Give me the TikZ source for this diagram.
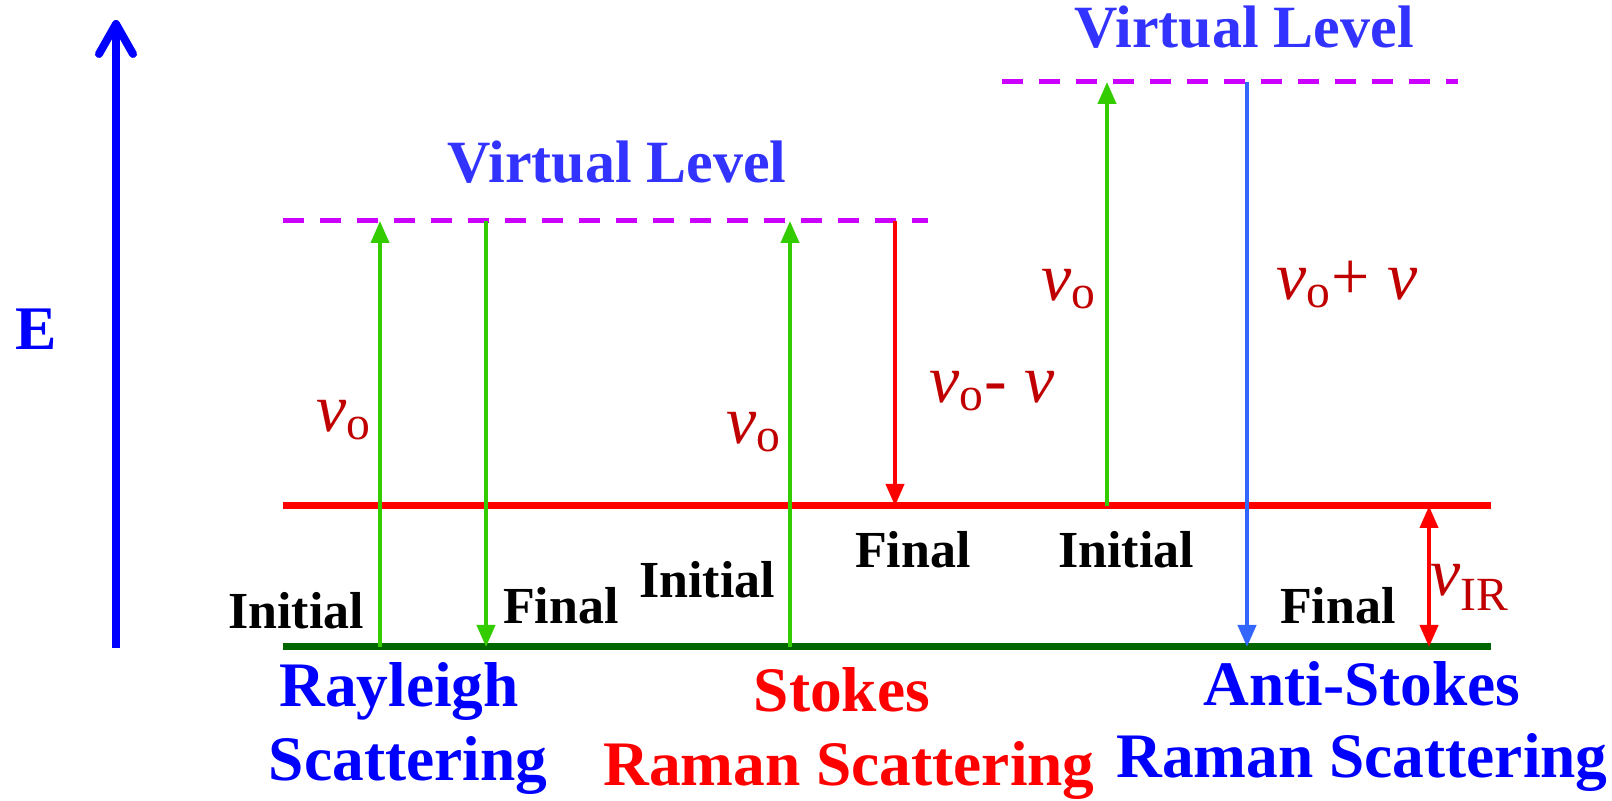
\documentclass[tikz,border=0pt]{standalone}
\usepackage{fontspec}
\setmainfont{Liberation Serif}
\usetikzlibrary{arrows.meta}

\definecolor{axisblue}{RGB}{0,0,255}
\definecolor{virtblue}{RGB}{51,51,255}
\definecolor{virtviolet}{RGB}{204,0,255}
\definecolor{photgreen}{RGB}{51,204,0}
\definecolor{groundgreen}{RGB}{0,102,0}
\definecolor{asblue}{RGB}{51,102,255}
\definecolor{nured}{RGB}{192,0,0}
\newcommand{\nusym}{\textit{ν}}
\newcommand{\nuo}{\nusym\textsubscript{o}}

\begin{document}
\begin{tikzpicture}[x=0.5pt, y=0.5pt,
  statelbl/.style={anchor=base, font=\bfseries\fontsize{26}{30}\selectfont},
  titlelbl/.style={anchor=base, font=\bfseries\fontsize{31.7}{38}\selectfont},
  virtlbl/.style={anchor=base, text=virtblue, font=\bfseries\fontsize{30}{36}\selectfont},
  freqlbl/.style={anchor=base, text=nured, font=\fontsize{34}{40}\selectfont},
  photon/.style={line width=2pt, -{Triangle[length=11pt,width=9pt]}},
  virtline/.style={virtviolet, line width=2.5pt, dash pattern=on 10.5pt off 8pt}]
  \useasboundingbox (0,0) rectangle (1612,801);
  \def\yg{154}\def\yr{295}\def\yva{580}\def\yvb{719}
  \def\xl{283}\def\xr{1491}
  % energy axis
  \coordinate (eaxis0) at (116,153);
  \coordinate (eaxis1) at (116,781);
  \draw[axisblue, line width=4pt, -{Straight Barb[round, length=15pt, width=17pt]}] (eaxis0) -- (eaxis1);
  \node[anchor=base, text=axisblue, font=\bfseries\fontsize{31}{36}\selectfont] (elbl) at (36,451) {E};
  % levels
  \draw[groundgreen, line width=3.5pt] (\xl,\yg) -- (\xr,\yg);
  \draw[red, line width=3.5pt] (\xl,\yr) -- (\xr,\yr);
  \draw[virtline] (\xl,\yva) -- (928,\yva);
  \draw[virtline] (1002,\yvb) -- (1458,\yvb);
  \node[virtlbl] (virta) at (617,618) {Virtual Level};
  \node[virtlbl] (virtb) at (1244,753) {Virtual Level};
  % end points of the transitions
  \foreach \n/\x/\ya/\yb in {ray0/380/\yg/\yva, ray1/486/\yva/\yg, st0/790/\yg/\yva,
      st1/895/\yva/\yr, as0/1107/\yr/\yvb, as1/1247/\yvb/\yg, ir/1429/\yr/\yg} {
    \coordinate (\n a) at (\x,\ya);
    \coordinate (\n b) at (\x,\yb);
  }
  \draw[photon, photgreen] (ray0a) -- (ray0b);
  \draw[photon, photgreen] (ray1a) -- (ray1b);
  \draw[photon, photgreen] (st0a) -- (st0b);
  \draw[photon, red] (st1a) -- (st1b);
  \draw[photon, photgreen] (as0a) -- (as0b);
  \draw[photon, asblue] (as1a) -- (as1b);
  \draw[photon, red, {Triangle[length=11pt,width=9pt]}-{Triangle[length=11pt,width=9pt]}] (ira) -- (irb);
  % frequencies
  \node[freqlbl] (nu1) at (344,369) {\nuo};
  \node[freqlbl] (nu2) at (754,357) {\nuo};
  \node[freqlbl] (nu3) at (992,398) {\nuo- \nusym};
  \node[freqlbl] (nu4) at (1069,500) {\nuo};
  \node[freqlbl] (nu5) at (1347,501) {\nuo+ \nusym};
  \node[freqlbl] (nu6) at (1470,205) {\nusym\textsubscript{IR}};
  % states
  \node[statelbl] (ini1) at (296,172) {Initial};
  \node[statelbl] (fin1) at (561,177) {Final};
  \node[statelbl] (ini2) at (707,203) {Initial};
  \node[statelbl] (fin2) at (913,233) {Final};
  \node[statelbl] (ini3) at (1126,233) {Initial};
  \node[statelbl] (fin3) at (1338,177) {Final};
  % processes
  \node[titlelbl, text=axisblue] (ray) at (399,94) {Rayleigh};
  \node[titlelbl, text=axisblue] (rays) at (408,20) {Scattering};
  \node[titlelbl, text=red] (sto) at (842,89) {Stokes};
  \node[titlelbl, text=red] (stos) at (849,15) {Raman Scattering};
  \node[titlelbl, text=axisblue] (ast) at (1362,95) {Anti-Stokes};
  \node[titlelbl, text=axisblue] (asts) at (1362,23) {Raman Scattering};
\end{tikzpicture}
\end{document}
